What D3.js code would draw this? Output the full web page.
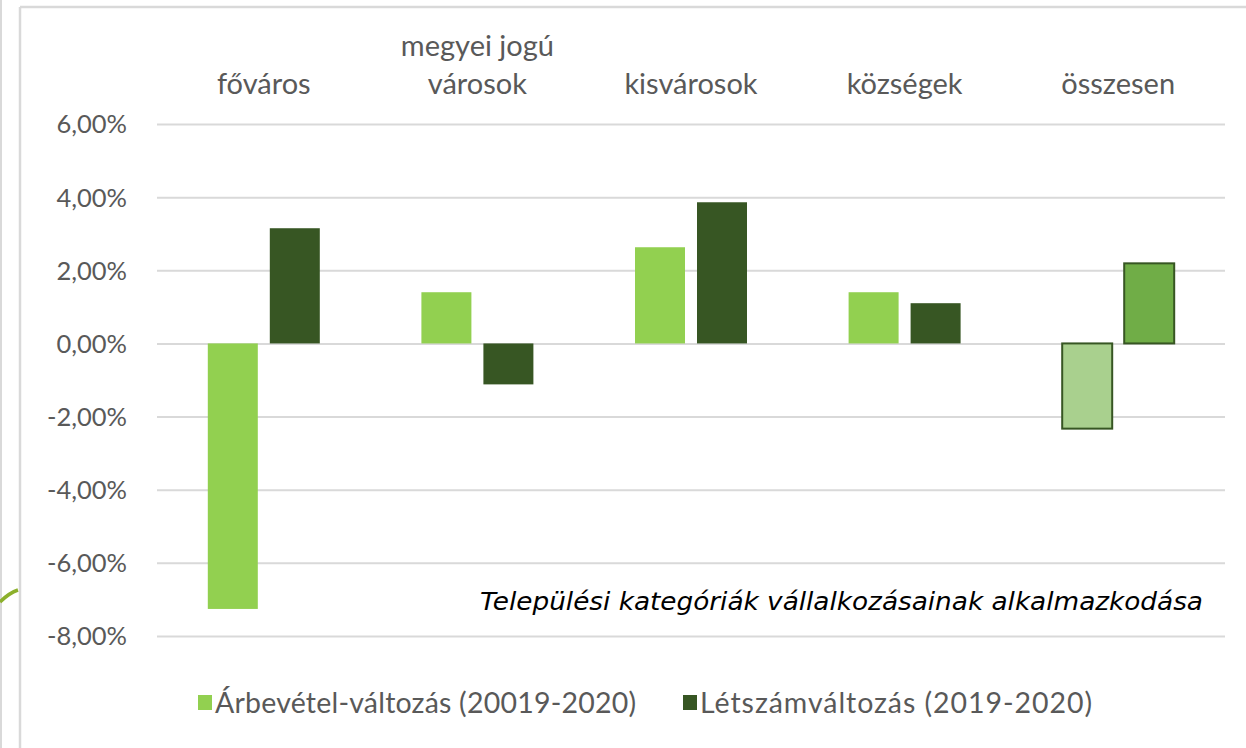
<!DOCTYPE html>
<html>
<head>
<meta charset="utf-8">
<script src="https://cdn.jsdelivr.net/npm/d3@7"></script>
<style>
  body { margin: 0; background: #fff; }
  svg { display: block; font-family: Lato, "Open Sans", sans-serif; }
</style>
</head>
<body>
<div id="viz"></div>
<script>
const categories = [["főváros"], ["megyei jogú", "városok"], ["kisvárosok"], ["községek"], ["összesen"]];
const revenueChange = [-7.26, 1.40, 2.63, 1.40, -2.33];
const staffChange = [3.15, -1.12, 3.86, 1.10, 2.19];
const seriesNames = ["Árbevétel-változás (20019-2020)", "Létszámváltozás (2019-2020)"];
const yTicks = [6, 4, 2, 0, -2, -4, -6, -8];
const note = "Települési kategóriák vállalkozásainak alkalmazkodása";

const W = 1246, H = 748;
const COLOR = { light: "#92d050", dark: "#375623", totLight: "#a9d08e", totDark: "#70ad47", grid: "#d9d9d9", text: "#595959" };
const M = { left: 157, right: 1225, top: 124, bottom: 636 };

const svg = d3.select("#viz").append("svg")
    .attr("width", W)
    .attr("height", H);

// page frame
svg.append("line").attr("x1", 1).attr("x2", 1).attr("y1", 0).attr("y2", H)
    .attr("stroke", COLOR.grid).attr("stroke-width", 2);
svg.append("path").attr("d", "M20,7 H" + W + " M20,7 V" + H)
    .attr("fill", "none").attr("stroke", COLOR.grid).attr("stroke-width", 2.5);
svg.append("path").attr("d", "M0,602 Q9,593 18,590")
    .attr("fill", "none").attr("stroke", "#8cb02c").attr("stroke-width", 3.5);

const y = d3.scaleLinear().domain([-8, 6]).range([M.bottom, M.top]);
const x0 = d3.scaleBand().domain(d3.range(categories.length)).range([M.left, M.right]);
const pairW = 112, barW = 50;

// gridlines + y labels
const yAxis = svg.append("g")
    .attr("transform", `translate(${M.right},0)`)
    .call(d3.axisLeft(y).tickValues(yTicks).tickSize(M.right - M.left)
        .tickFormat(d => d3.format(".2f")(d).replace(".", ",").replace("−", "-") + "%"));
yAxis.select(".domain").remove();
yAxis.selectAll(".tick line").attr("stroke", COLOR.grid).attr("stroke-width", 2);
yAxis.selectAll(".tick text")
    .attr("x", -(M.right - 127))
    .attr("dy", "0.35em")
    .attr("fill", COLOR.text)
    .attr("font-family", "Lato")
    .attr("font-size", 25.5);

// category labels on top
const catG = svg.append("g");
categories.forEach((lines, i) => {
    const t = catG.append("text")
        .attr("x", x0(i) + x0.bandwidth() / 2)
        .attr("text-anchor", "middle")
        .attr("fill", COLOR.text)
        .attr("font-size", 29);
    lines.forEach((s, k) => {
        t.append("tspan")
            .attr("x", x0(i) + x0.bandwidth() / 2)
            .attr("y", 94 - (lines.length - 1 - k) * 38)
            .text(s);
    });
});

// bars
const last = categories.length - 1;
[revenueChange, staffChange].forEach((vals, s) => {
    svg.append("g").selectAll("rect")
        .data(vals)
        .enter()
        .append("rect")
        .attr("x", (d, i) => x0(i) + x0.bandwidth() / 2 - pairW / 2 + s * (pairW - barW))
        .attr("y", d => y(Math.max(0, d)))
        .attr("width", barW)
        .attr("height", d => Math.abs(y(d) - y(0)))
        .attr("fill", (d, i) => i === last ? (s ? COLOR.totDark : COLOR.totLight) : (s ? COLOR.dark : COLOR.light))
        .attr("stroke", (d, i) => i === last ? COLOR.dark : "none")
        .attr("stroke-width", 2);
});

// annotation
svg.append("text")
    .attr("x", 480).attr("y", 610)
    .attr("font-family", "DejaVu Sans")
    .attr("font-style", "italic")
    .attr("font-size", 25)
    .attr("textLength", 723)
    .attr("lengthAdjust", "spacingAndGlyphs")
    .attr("fill", "#000")
    .text(note);

// legend
const legX = [198, 683];
const legLen = [421, 392];
seriesNames.forEach((n, s) => {
    svg.append("rect").attr("x", legX[s]).attr("y", 695).attr("width", 14).attr("height", 15)
        .attr("fill", s ? COLOR.dark : COLOR.light);
    svg.append("text").attr("x", legX[s] + 17).attr("y", 713)
        .attr("fill", COLOR.text).attr("font-size", 28.5)
        .attr("textLength", legLen[s])
        .attr("lengthAdjust", "spacing")
        .text(n);
});
</script>
</body>
</html>
